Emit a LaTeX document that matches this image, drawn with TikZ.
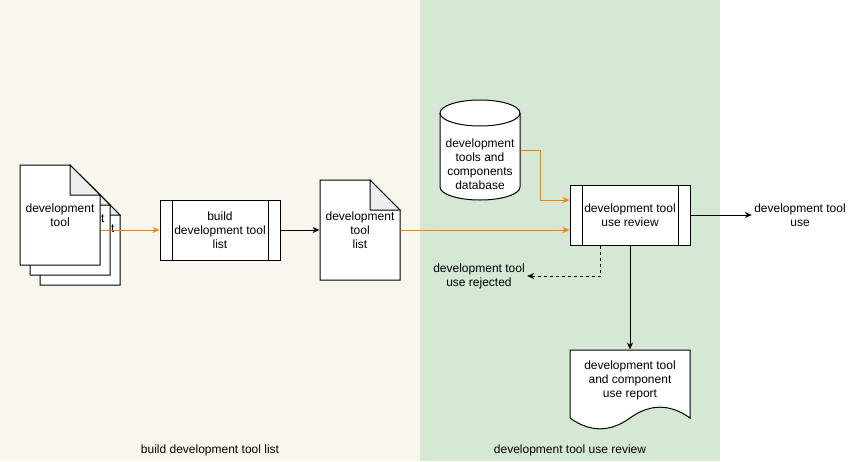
\documentclass[tikz,border=0pt]{standalone}
\usepackage{fontspec}
\setmainfont{Liberation Sans}
\usetikzlibrary{arrows.meta}

\definecolor{lanebuild}{HTML}{F9F7ED}
\definecolor{lanereview}{HTML}{D5E8D4}
\definecolor{flow}{HTML}{FF8000}
\definecolor{foldgray}{HTML}{EEEEEE}

% sheet with folded corner, top left at (#1,#2)
\newcommand{\docsheet}[2]{%
  \draw[fill=white] (#1,#2) -- ++(50,0) -- ++(30,30) -- ++(0,70) -- ++(-80,0) -- cycle;
  \draw[fill=foldgray] (#1+50,#2) -- ++(0,30) -- ++(30,0) -- cycle;}

\tikzset{
  txt/.style={font=\fontsize{12}{14}\selectfont, align=center, inner sep=2pt},
  page/.style={txt, minimum width=80pt, minimum height=100pt},
  procbox/.style={txt, draw, fill=white, minimum width=120pt, minimum height=60pt,
    path picture={
      \draw ([xshift=12pt]path picture bounding box.north west) -- ([xshift=12pt]path picture bounding box.south west)
            ([xshift=-12pt]path picture bounding box.north east) -- ([xshift=-12pt]path picture bounding box.south east);}},
  tip/.style={-{Stealth[length=7pt,width=6pt]}},
}

\begin{document}
\begin{tikzpicture}[x=1pt, y=-1pt, line width=1pt]
      \useasboundingbox (0,0) rectangle (851,461);
      \fill[white] (0,0) rectangle (851,461);
      % lanes
      \fill[lanebuild] (0,0) rectangle (420,461);
      \fill[lanereview] (420,0) rectangle (720,461);
      \node[txt] (buildlane) at (210,450) {build development tool list};
      \node[txt] (reviewlane) at (570,450) {development tool use review};

      % stack of tool sheets
      \foreach \k/\n in {20/C, 10/B, 0/A} {
        \docsheet{20+\k}{165+\k}
        \node[page] (tool\n) at (60+\k,215+\k) {development\\tool};
      }
      \node[procbox] (build) at (220,230) {build\\development tool\\list};
      \docsheet{320}{180}
      \node[page] (list) at (360,230) {development\\tool\\list};

      % database
      \draw[fill=white] (440,113) -- (440,187) arc (180:360:40pt and 13pt) -- (520,113) arc (0:180:40pt and 13pt) -- cycle;
      \draw (440,113) arc (180:360:40pt and 13pt);
      \node[txt, minimum width=80pt, inner sep=0pt] (db) at (480,164) {development\\tools and\\components\\database};

      \node[procbox] (review) at (630,215) {development tool\\use review};
      \node[txt] (usetool) at (800,215) {development tool\\use};
      \node[txt] (rejected) at (479,276) {development tool\\use rejected};

      % report sheet
      \draw[fill=white] (570,350) -- (690,350) -- (690,418)
        .. controls (670,403.6) and (650,403.6) .. (630,418)
        .. controls (610,432.4) and (590,432.4) .. (570,418) -- cycle;
      \node[txt, minimum width=120pt, minimum height=60pt] (report) at (630,380) {development tool\\and component\\use report};

      % flows
      \draw[tip, flow] (toolA.east |- build.west) -- (build.west);
      \draw[tip] (build.east) -- (list.west);
      \draw[tip, flow] (list.east) -- (list.east -| review.west);
      \draw[tip, flow] ([yshift=14pt]db.east) -- ++(20,0) |- ([yshift=15pt]review.west);
      \draw[tip] (review.east) -- (usetool.west);
      \draw[tip, dashed] ([xshift=-30pt]review.south) |- (rejected.east);
      \draw[tip] (review.south) -- (report.north);
    \end{tikzpicture}
\end{document}
